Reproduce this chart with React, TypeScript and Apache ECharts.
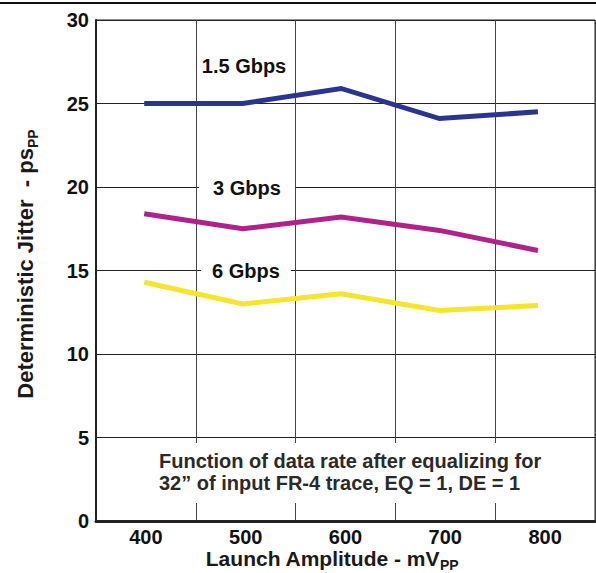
import React, { useEffect, useRef } from "react";
import * as echarts from "echarts";

const categories = ["400", "500", "600", "700", "800"];
const amplitudes = [400, 500, 600, 700, 800];
const gbps15 = [25.0, 25.0, 25.9, 24.1, 24.5];
const gbps3 = [18.4, 17.5, 18.2, 17.4, 16.2];
const gbps6 = [14.3, 13.0, 13.6, 12.6, 12.9];
const yTicks = { min: 0, max: 30, interval: 5 };

const FONT = "'Liberation Sans', Arial, Helvetica, sans-serif";

export default function App() {
  const ref = useRef<HTMLDivElement>(null);
  useEffect(() => {
    if (!ref.current) return;
    const chart = echarts.init(ref.current, null, { renderer: "svg" });
    const pair = (vals: number[]) => amplitudes.map((a, i) => [a, vals[i]]);
    const lineSeries = (name: string, vals: number[], color: string) => ({
      name,
      type: "line",
      xAxisIndex: 1,
      yAxisIndex: 0,
      data: pair(vals),
      symbol: "none",
      lineStyle: { color, width: 5, join: "miter" },
      z: 3,
    });
    const subRich = (size: number, lh: number) => ({
      a: {
        fontFamily: FONT,
        fontSize: size,
        fontWeight: "bold",
        fill: "#1a1a1a",
        lineHeight: lh,
        verticalAlign: "middle",
      },
      b: {
        fontFamily: FONT,
        fontSize: 14,
        fontWeight: "bold",
        fill: "#1a1a1a",
        lineHeight: lh,
        verticalAlign: "bottom",
      },
    });
    chart.setOption({
      animation: false,
      backgroundColor: "#ffffff",
      grid: {
        left: 96,
        right: 1,
        top: 20,
        bottom: 52,
        show: true,
        borderColor: "#222",
        borderWidth: 1,
        backgroundColor: "transparent",
      },
      xAxis: [
        {
          type: "category",
          data: categories,
          boundaryGap: true,
          axisLine: { show: true, lineStyle: { color: "#222", width: 3 } },
          axisTick: { show: false },
          splitLine: { show: true, lineStyle: { color: "#444", width: 1 } },
          axisLabel: {
            fontFamily: FONT,
            fontSize: 20,
            fontWeight: "bold",
            color: "#111",
            margin: 6,
          },
        },
        {
          type: "value",
          min: 351,
          max: 858,
          show: false,
          splitLine: { show: false },
        },
      ],
      yAxis: {
        type: "value",
        min: yTicks.min,
        max: yTicks.max,
        interval: yTicks.interval,
        axisLine: { show: true, lineStyle: { color: "#222", width: 2 } },
        axisTick: { show: false },
        splitLine: { show: true, lineStyle: { color: "#222", width: 1 } },
        axisLabel: {
          fontFamily: FONT,
          fontSize: 20,
          fontWeight: "bold",
          color: "#111",
          margin: 7,
        },
      },
      series: [
        lineSeries("1.5 Gbps", gbps15, "#2C3491"),
        lineSeries("3 Gbps", gbps3, "#B0228A"),
        lineSeries("6 Gbps", gbps6, "#F5E52B"),
      ],
      graphic: [
        {
          type: "line",
          shape: { x1: 0, y1: 3, x2: 596, y2: 3 },
          style: { stroke: "#111", lineWidth: 2 },
          z: 10,
        },
        {
          type: "text",
          x: 244,
          y: 66,
          z: 10,
          style: {
            text: "1.5 Gbps",
            fontFamily: FONT,
            fontSize: 20,
            fontWeight: "bold",
            fill: "#111",
            align: "center",
            verticalAlign: "middle",
          },
        },
        {
          type: "text",
          x: 247,
          y: 188,
          z: 10,
          style: {
            text: "3 Gbps",
            fontFamily: FONT,
            fontSize: 20,
            fontWeight: "bold",
            fill: "#111",
            align: "center",
            verticalAlign: "middle",
            backgroundColor: "#fff",
            padding: [3, 14, 3, 14],
          },
        },
        {
          type: "text",
          x: 246,
          y: 271,
          z: 10,
          style: {
            text: "6 Gbps",
            fontFamily: FONT,
            fontSize: 20,
            fontWeight: "bold",
            fill: "#111",
            align: "center",
            verticalAlign: "middle",
            backgroundColor: "#fff",
            padding: [3, 11, 3, 11],
          },
        },
        {
          type: "rect",
          shape: { x: 150, y: 443, width: 436, height: 60 },
          style: { fill: "#fff" },
          z: 9,
        },
        {
          type: "text",
          x: 159,
          y: 472,
          z: 10,
          style: {
            text: "Function of data rate after equalizing for\n32\u201d of input FR-4 trace, EQ = 1, DE = 1",
            fontFamily: FONT,
            fontSize: 20,
            fontWeight: "bold",
            fill: "#2a2a2a",
            lineHeight: 22,
            align: "left",
            verticalAlign: "middle",
          },
        },
        {
          type: "text",
          x: 332,
          y: 558,
          z: 10,
          style: {
            text: "{a|Launch Amplitude - mV}{b|PP}",
            align: "center",
            verticalAlign: "middle",
            rich: subRich(21, 28),
          },
        },
        {
          type: "text",
          x: 25,
          y: 264,
          rotation: Math.PI / 2,
          z: 10,
          style: {
            text: "{a|Deterministic Jitter  - ps}{b|PP}",
            align: "center",
            verticalAlign: "middle",
            rich: subRich(22, 30),
          },
        },
      ],
    });
    return () => chart.dispose();
  }, []);
  return (
    <div
      ref={ref}
      style={{ position: "fixed", left: 0, top: 0, width: 596, height: 573, background: "#fff" }}
    />
  );
}
